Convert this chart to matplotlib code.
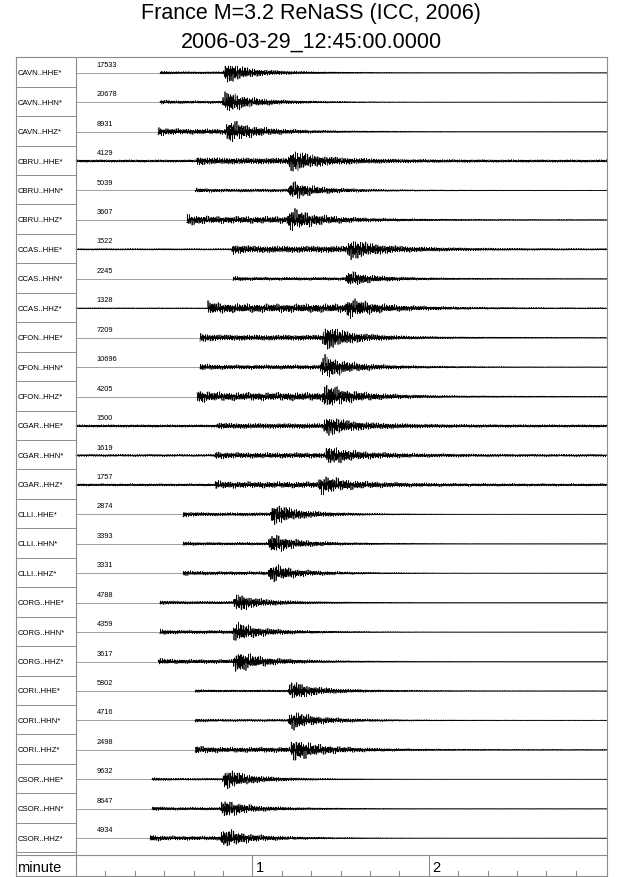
import numpy as np
import matplotlib
matplotlib.use("Agg")
import matplotlib.pyplot as plt

plt.rcParams['font.family'] = ['Liberation Sans', 'DejaVu Sans']

title1 = "France M=3.2 ReNaSS (ICC, 2006)"
title2 = "2006-03-29_12:45:00.0000"

stations = ["CAVN", "CBRU", "CCAS", "CFON", "CGAR", "CLLI", "CORG", "CORI", "CSOR"]
channels = ["HHE", "HHN", "HHZ"]
labels = [s + ".." + c + "*" for s in stations for c in channels]

peak_counts = [17533, 20678, 8931, 4129, 5039, 3607, 1522, 2245, 1328,
               7209, 10696, 4205, 1500, 1619, 1757, 2874, 3393, 3331,
               4788, 4359, 3617, 5802, 4716, 2498, 9632, 8647, 4934]

# times in minutes, amplitudes in pixels
p_time = [0.476, 0.476, 0.465, 0.686, 0.675, 0.629, 0.884, 0.890, 0.748,
          0.703, 0.703, 0.686, 0.799, 0.788, 0.788, 0.607, 0.607, 0.607,
          0.476, 0.476, 0.465, 0.675, 0.675, 0.675, 0.431, 0.431, 0.420]
s_time = [0.833, 0.828, 0.845, 1.202, 1.202, 1.196, 1.536, 1.525, 1.525,
          1.395, 1.383, 1.395, 1.400, 1.410, 1.372, 1.100, 1.088, 1.088,
          0.890, 0.884, 0.890, 1.202, 1.202, 1.213, 0.828, 0.816, 0.816]
p_amp = [1.5, 2, 4, 3, 2, 5, 4, 2, 6, 4, 3, 6, 2, 2.5, 3, 2.5, 2, 2.5,
         2, 2.5, 3, 1.2, 1.5, 3.5, 1.5, 2, 3]
s_amp = [12, 13, 12, 11, 10, 11, 10, 8, 8, 13, 13, 11, 10, 9, 9, 12, 11, 10,
         10, 11, 12, 11, 11, 12, 12, 10, 10]
noise_amp = [0.15, 0.15, 0.15, 1.2, 0.3, 0.4, 0.8, 0.3, 0.5, 0.3, 0.3, 0.3,
             1.2, 1.1, 1.1, 0.15, 0.15, 0.15, 0.15, 0.15, 0.15, 0.3, 0.3, 0.4,
             0.15, 0.15, 0.15]
starts_at_p = [1, 1, 1, 0, 1, 1, 0, 1, 0, 1, 1, 1, 0, 0, 0, 1, 1, 1,
               1, 1, 1, 1, 1, 1, 1, 1, 1]

W, H = 640, 878
left_px, right_px, top_px, bot_px = 16, 606.7, 58.3, 876.7
zero_px = 76
px_per_min = 176.4
row_px = 29.44
gray = "#8c8c8c"

fig = plt.figure(figsize=(W / 100, H / 100), dpi=100)
ax = fig.add_axes([left_px / W, 1 - bot_px / H,
                   (right_px - left_px) / W, (bot_px - top_px) / H])
xmin = (left_px - zero_px) / px_per_min
xmax = (right_px - zero_px) / px_per_min
ymax = (bot_px - top_px) / row_px
ax.set_xlim(xmin, xmax)
ax.set_ylim(ymax, 0)
ax.set_xticks([])
ax.set_yticks([])
for sp in ax.spines.values():
    sp.set_color(gray)
    sp.set_linewidth(0.8)

nrow = len(labels)
t = np.arange(0, xmax, 1 / (60 * 50))
ts = t * 60.0

for i in range(nrow):
    base = i + 15.4 / row_px
    ax.plot([0, xmax], [base, base], color="#a0a0a0", lw=0.7, zorder=1)
    ax.plot([xmin, 0], [i + 1, i + 1], color=gray, lw=0.7)
    ax.text(xmin + 1.2 / px_per_min, base, labels[i], fontsize=5.6,
            va="center", ha="left")
    ax.text((96.5 - zero_px) / px_per_min, i + 7 / row_px, str(peak_counts[i]),
            fontsize=5.3, va="center", ha="left")

    p, s = p_time[i], s_time[i]
    env = np.full_like(t, noise_amp[i])
    after_p = t >= p
    dp = t[after_p] - p
    env[after_p] += p_amp[i] * (0.55 + 0.45 * np.exp(-dp / 0.06)) * \
        np.where(t[after_p] < s, 1.0, np.exp(-(t[after_p] - s) / 0.35))
    after_s = t >= s
    d = t[after_s] - s
    env[after_s] += s_amp[i] * (1 - np.exp(-d / 0.015)) * \
        (0.65 * np.exp(-d / 0.08) + 0.35 * np.exp(-d / 0.28))
    ph = i * 0.77
    carrier = (np.sin(2 * np.pi * 1.7 * ts + ph)
               + 0.8 * np.sin(2 * np.pi * 2.9 * ts + 2.1 * ph)
               + 0.6 * np.sin(2 * np.pi * 4.3 * ts + 3.3 * ph)
               + 0.5 * np.sin(2 * np.pi * 6.1 * ts + 1.3 * ph)) / 2.3
    y = base - env / row_px * carrier
    keep = t >= (p if starts_at_p[i] else 0)
    ax.plot(t[keep], y[keep], color="black", lw=0.5, zorder=2)

# time axis row
axis_top = (856 - top_px) / row_px
ax.plot([xmin, xmax], [axis_top, axis_top], color=gray, lw=0.8)
ax.plot([0, 0], [0, ymax], color=gray, lw=0.8)
for m in [1, 2]:
    ax.plot([m, m], [axis_top, ymax], color=gray, lw=0.8)
    ax.text(m + 3 / px_per_min, (axis_top + ymax) / 2 + 0.05, str(m),
            fontsize=10.5, va="center", ha="left")
for k in range(1, 18):
    if k % 6:
        ax.plot([k / 6, k / 6], [ymax - 5 / row_px, ymax], color=gray, lw=0.8)
ax.text(xmin + 1.5 / px_per_min, (axis_top + ymax) / 2 + 0.05, "minute",
        fontsize=10.5, va="center", ha="left")

fig.text(311 / W, 1 - 14 / H, title1, fontsize=15.5, ha="center", va="center")
fig.text(311 / W, 1 - 42 / H, title2, fontsize=15.5, ha="center", va="center")

fig.savefig("out.png", dpi=100)
